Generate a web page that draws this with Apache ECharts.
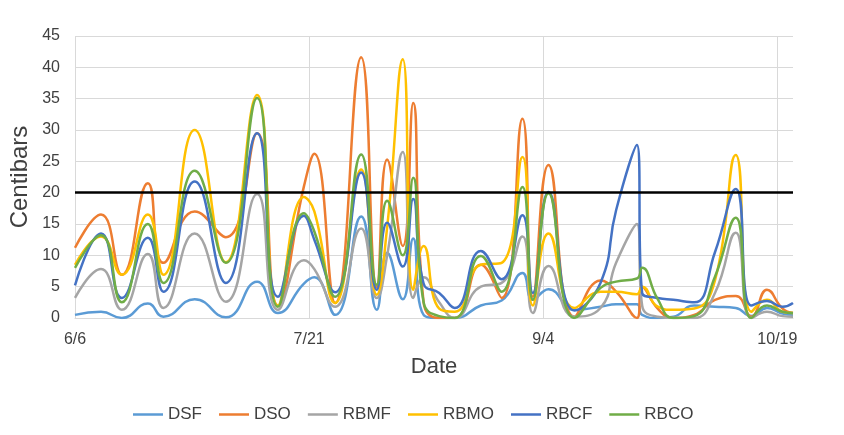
<!DOCTYPE html>
<html>
<head>
<meta charset="utf-8">
<script src="https://cdn.jsdelivr.net/npm/echarts@6/dist/echarts.min.js"></script>
<style>
  html, body { margin: 0; padding: 0; background: #fff; }
  #box { width: 844px; height: 435px; }
</style>
</head>
<body>
<div id="box"></div>
<script>
// days counted from 6/6
var days = [0, 5, 9, 14, 17, 23, 29, 35, 39, 44, 46, 50, 55, 58, 60, 63, 65, 67, 70, 73, 78, 82, 86, 88, 91, 96, 101, 104, 108, 109, 112, 115, 119, 123, 127, 130, 133, 136, 138];

var dsf  = [0.5, 1.0, 0, 2.3, 0.2, 3.0, 0.1, 5.8, 0.8, 5.5, 6.5, 0.5, 16.2, 1.3, 10.4, 3, 12.7, 0.5, 0, 0, 2, 2.8, 7.2, 2.9, 4.6, 1.3, 1.8, 2.2, 2.2, 0.5, 0, 0.2, 2, 1.8, 1.6, 0.3, 1.6, 0.7, 0.5];
var dso  = [11.2, 16.5, 6.9, 21.5, 8.8, 17, 12.9, 29.5, 2, 21, 26.2, 2.4, 41.6, 4.9, 25.3, 11.5, 34.3, 2.5, 0, 0, 8.5, 3.2, 31.8, 3.4, 24.4, 0.2, 6, 4.2, 0, 5, 1.5, 0, 0.5, 2.9, 3.5, 0.2, 4.5, 1.5, 0.8];
var rbmf = [3.2, 7.8, 1.3, 10.2, 1.6, 13.5, 2.6, 19.8, 1.3, 9.2, 7.8, 1.8, 14.3, 3.2, 10, 26.5, 3.2, 6.5, 2.5, 0, 5, 5.6, 13, 0.8, 8.3, 0.2, 1.6, 8.8, 15, 2, 0.2, 0, 0, 4, 13.6, 0, 1, 0.3, 0.2];
var rbmo = [8.5, 13, 6.9, 16.5, 6.9, 30, 8.9, 35.6, 2, 19.3, 17, 2.4, 23.7, 3.7, 14.5, 41.3, 4.5, 11.5, 1.5, 1, 8.5, 8.8, 25.7, 2, 13.5, 1.6, 4.2, 4.2, 3.8, 5, 1.8, 1.3, 1.5, 6, 26, 1, 2.9, 1, 0.8];
var rbcf = [5.2, 13.5, 3.2, 12.8, 4.2, 21.8, 5.6, 29.5, 3.4, 16.3, 12.5, 4.1, 23.2, 4.5, 15.2, 8.2, 19, 5.5, 4, 1.6, 10.7, 6.2, 16.4, 4, 20.1, 1.2, 5.6, 17.2, 27.6, 4, 3.2, 2.9, 2.5, 10.5, 20.6, 2, 2.7, 1.8, 2.4];
var rbco = [8, 13.2, 2.5, 15, 5.6, 23.5, 8.8, 35.1, 1.8, 16.7, 13.8, 3.4, 26.1, 5.3, 18.7, 10, 22.4, 2.5, 0.3, 0, 9.9, 4.2, 20.9, 2.9, 19.9, 0, 4.8, 5.8, 6.3, 8, 3, 0, 0.3, 6.6, 16, 0, 2, 1, 0.8];

var seriesNames = ['DSF', 'DSO', 'RBMF', 'RBMO', 'RBCF', 'RBCO'];
var seriesData = [dsf, dso, rbmf, rbmo, rbcf, rbco];
var colors = ['#5B9BD5', '#ED7D31', '#A5A5A5', '#FFC000', '#4472C4', '#70AD47'];
var threshold = 20;
var tickDays = [0, 45, 90, 135];

var startDate = new Date(2020, 5, 6);
function dayLabel(d) {
    var dt = new Date(startDate.getTime() + d * 86400000);
    return (dt.getMonth() + 1) + '/' + dt.getDate();
}

var series = seriesData.map(function (vals, i) {
    return {
        name: seriesNames[i],
        type: 'line',
        smooth: 0.5,
        symbol: 'none',
        itemStyle: { color: colors[i] },
        lineStyle: { width: 2.5, color: colors[i] },
        data: days.map(function (d, j) { return [d, vals[j]]; })
    };
});
series[0].markLine = {
    silent: true,
    symbol: 'none',
    label: { show: false },
    lineStyle: { color: '#000', width: 2.5, type: 'solid' },
    data: [{ yAxis: threshold }]
};
// vertical grid lines only at the labelled dates
series.push({
    type: 'line',
    data: [],
    markLine: {
        silent: true,
        symbol: 'none',
        z: 1,
        label: { show: false },
        lineStyle: { color: '#d9d9d9', width: 1, type: 'solid' },
        data: tickDays.map(function (d) { return { xAxis: d }; })
    }
});

var myChart = echarts.init(document.getElementById('box'));
myChart.setOption({
    animation: false,
    color: colors,
    textStyle: { fontFamily: 'Liberation Sans, Arial, sans-serif' },
    grid: { left: 75, right: 51, top: 36, bottom: 117, outerBoundsMode: 'none' },
    legend: {
        top: 401,
        left: 128,
        icon: 'rect',
        itemWidth: 30,
        itemHeight: 2.5,
        itemGap: 17,
        textStyle: { color: '#404040', fontSize: 17 },
        data: seriesNames
    },
    xAxis: {
        type: 'value',
        min: 0,
        max: 138,
        interval: 45,
        name: 'Date',
        nameLocation: 'middle',
        nameGap: 38,
        nameTextStyle: { color: '#404040', fontSize: 22 },
        axisLine: { lineStyle: { color: '#d9d9d9' } },
        axisTick: { show: false },
        axisLabel: {
            color: '#404040',
            fontSize: 16,
            margin: 14,
            showMaxLabel: false,
            formatter: function (v) { return v % 45 === 0 ? dayLabel(v) : ''; }
        },
        splitLine: { show: false }
    },
    yAxis: {
        type: 'value',
        min: 0,
        max: 45,
        interval: 5,
        name: 'Centibars',
        nameLocation: 'middle',
        nameGap: 43,
        nameMoveOverlap: false,
        nameTextStyle: { color: '#404040', fontSize: 24 },
        axisLine: { show: false },
        axisTick: { show: false },
        axisLabel: { color: '#404040', fontSize: 16, margin: 15 },
        splitLine: { lineStyle: { color: '#d9d9d9' } }
    },
    series: series
});
</script>
</body>
</html>
